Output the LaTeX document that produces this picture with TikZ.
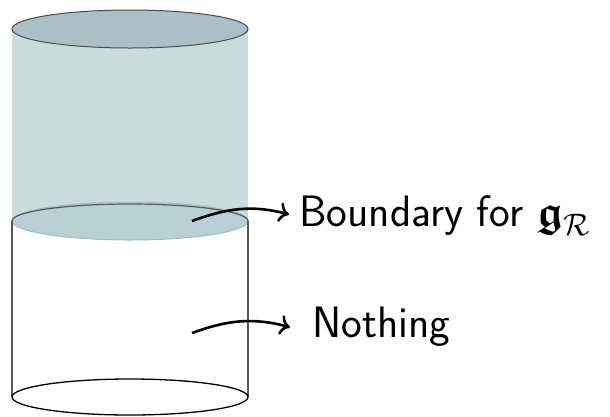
\RequirePackage{fix-cm}
\documentclass[tikz,border=0pt]{standalone}
\usepackage{amsmath, amssymb}
\usetikzlibrary{positioning, arrows.meta}

\definecolor{bodyfill}{HTML}{C8DDDB}
\definecolor{topfill}{HTML}{ABBFC8}
\definecolor{midfill}{HTML}{B8CFD5}
\definecolor{midrim}{HTML}{A3BEC2}

\newcommand{\subR}{\mbox{\fontsize{31}{31}\selectfont$\mathcal{R}$}}

\begin{document}
\begin{tikzpicture}[
			x=1pt, y=-1pt,
			font=\sffamily\fontsize{44}{52}\selectfont,
			lbl/.style={anchor=base west, inner sep=0pt},
			arr/.style={-{To[length=10pt, width=20pt]}, line width=2.6pt, black},
			rim/.style={draw=black!65, line width=1.2pt},
		]
			\useasboundingbox (0,0) rectangle (610,416);
			% upper, filled part
			\fill[bodyfill] (12,29) rectangle (248,221);
			\filldraw[fill=topfill, draw=black!70, line width=1pt] (130,29) ellipse [x radius=118pt, y radius=19pt];
			\filldraw[fill=midfill, draw=midrim, line width=1pt] (130,221) ellipse [x radius=118pt, y radius=19pt];
			\draw[rim] (12,221) arc [start angle=180, end angle=0, x radius=118pt, y radius=17pt];
			% lower, empty part
			\draw[rim] (12,221) -- (12,397);
			\draw[rim] (248,221) -- (248,397);
			\draw[black, line width=1.3pt] (130,397) ellipse [x radius=118pt, y radius=18pt];

			\node[lbl] (bnd) at (299,226) {Boundary for $\boldsymbol{\mathfrak{g}}_{\subR}$};
			\node[lbl] (none) at (312,337) {Nothing};
			\coordinate (bndfrom) at (192,221);
			\coordinate (nonefrom) at (192,333);
			\draw[arr] (bndfrom) to[out=20, in=165] ([xshift=-10pt, yshift=1pt]bnd.west);
			\draw[arr] (nonefrom) to[out=20, in=165] ([xshift=-22pt, yshift=-1pt]none.west);
		\end{tikzpicture}
\end{document}
